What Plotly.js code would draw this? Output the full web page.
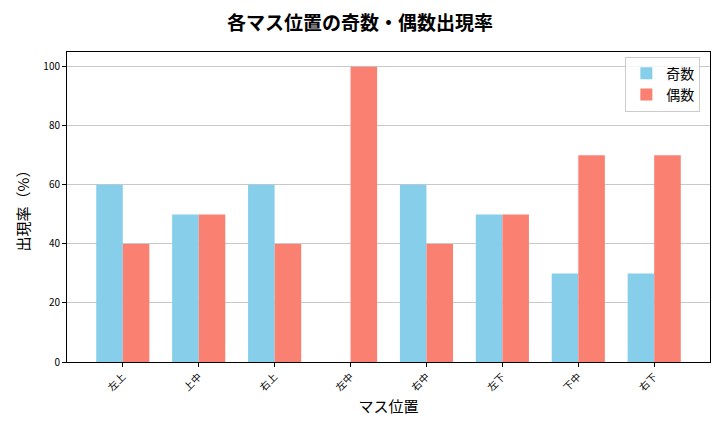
<!DOCTYPE html>
<html><head><meta charset="utf-8">
<script src="https://cdn.plot.ly/plotly-3.0.1.min.js"></script>
<style>html,body{margin:0;padding:0;background:#fff;}#c{width:720px;height:432px;}</style>
</head><body><div id="c"></div>
<script>
const categories = ["左上","上中","右上","左中","右中","左下","下中","右下"];
const oddValues = [60,50,60,0,60,50,30,30];
const evenValues = [40,50,40,100,40,50,70,70];
const yTicks = [0,20,40,60,80,100];
const idx = categories.map((_, i) => i);
const font = "Noto Sans CJK JP, sans-serif";
const data = [
  {type:"bar", x: idx, y: oddValues, name:"奇数", marker:{color:"#87CEEB"}},
  {type:"bar", x: idx, y: evenValues, name:"偶数", marker:{color:"#FA8072"}}
];
const layout = {
  width:720, height:432,
  margin:{l:67, r:10, t:52, b:70},
  paper_bgcolor:"#fff", plot_bgcolor:"#fff",
  font:{family:font, color:"#000"},
  barmode:"group", bargap:0.3, bargroupgap:0,
  title:{text:"各マス位置の奇数・偶数出現率", font:{size:19, family:font, weight:"bold"}, x:0.5, xanchor:"center", y:0.945, yanchor:"middle"},
  xaxis:{range:[-0.735,7.735], tickvals: idx, ticktext: categories, tickangle:-45,
    tickfont:{size:10}, ticks:"outside", ticklen:4, tickcolor:"#000",
    showline:true, linecolor:"#000", linewidth:1, mirror:true, showgrid:false, zeroline:false,
    title:{text:"マス位置", font:{size:15}, standoff:8}},
  yaxis:{range:[0,105], tickvals:yTicks, tickfont:{size:10}, ticks:"outside", ticklen:4, tickcolor:"#000",
    showline:true, linecolor:"#000", linewidth:1, mirror:true, showgrid:true, gridcolor:"#c8c8c8", zeroline:false,
    title:{text:"出現率（%）", font:{size:15}, standoff:10}},
  legend:{x:0.985, y:0.985, xanchor:"right", yanchor:"top", bgcolor:"rgba(255,255,255,0.8)",
    bordercolor:"#ccc", borderwidth:1, font:{size:14}},
  showlegend:true
};
Plotly.newPlot("c", data, layout, {displayModeBar:false, staticPlot:true});
</script></body></html>
